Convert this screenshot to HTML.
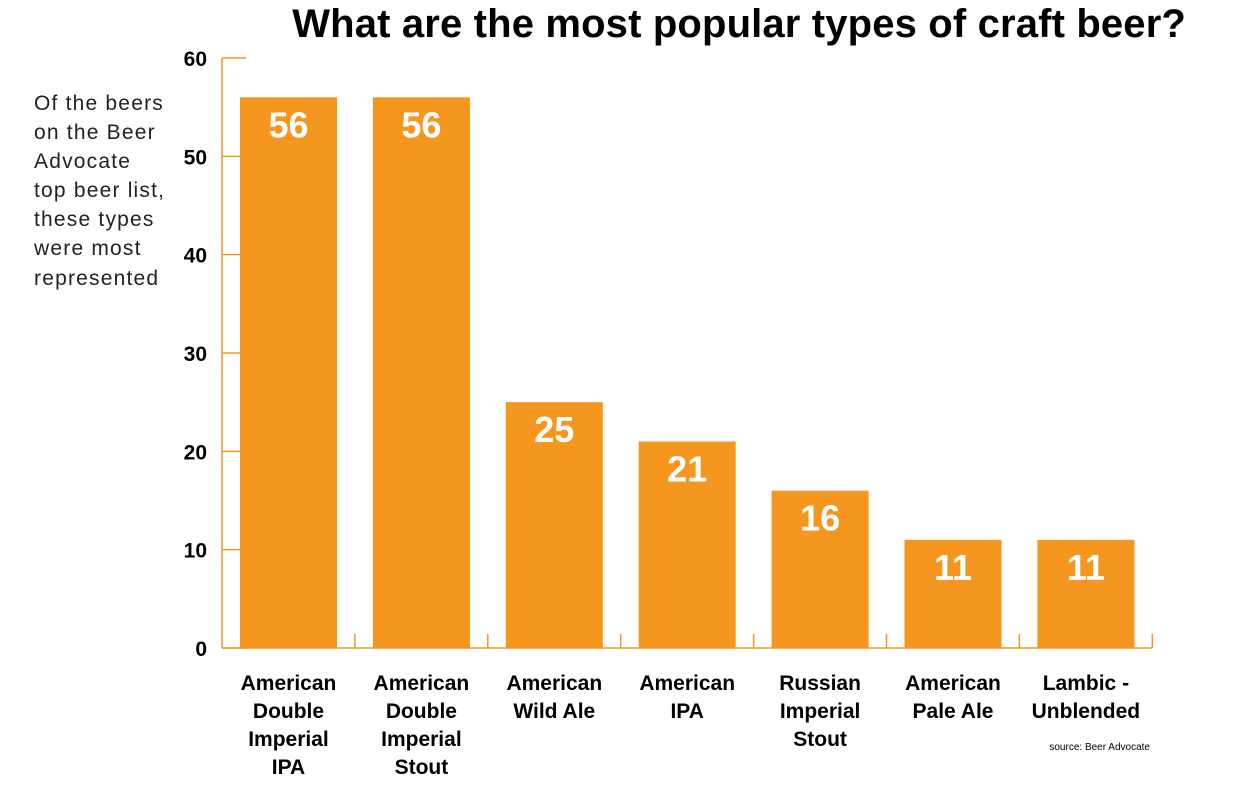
<!DOCTYPE html>
<html><head><meta charset="utf-8"><style>
body{margin:0;background:#fff;width:1250px;height:798px;overflow:hidden;font-family:"Liberation Sans",sans-serif}
svg{display:block}
.lbl{font-weight:900;font-size:21px;fill:#000;text-anchor:middle}
</style></head><body>
<svg id="chart" width="1250" height="798" viewBox="0 0 1250 798">
<text x="1186" y="37" text-anchor="end" font-size="40" font-weight="900" fill="#000" style="letter-spacing:0.15px">What are the most popular types of craft beer?</text>
<g font-size="21" fill="#222" font-weight="300" style="letter-spacing:1.2px">
<text x="34" y="110">Of the beers</text><text x="34" y="139">on the Beer</text><text x="34" y="168">Advocate</text><text x="34" y="197">top beer list,</text><text x="34" y="226">these types</text><text x="34" y="255">were most</text><text x="34" y="285">represented</text>
</g>
<g id="axis"></g><g id="bars"></g>
<text x="1150" y="750" text-anchor="end" font-size="10" fill="#000">source: Beer Advocate</text>
</svg>
<script>
const categories=[["American","Double","Imperial","IPA"],["American","Double","Imperial","Stout"],["American","Wild Ale"],["American","IPA"],["Russian","Imperial","Stout"],["American","Pale Ale"],["Lambic -","Unblended"]];
const values=[56,56,25,21,16,11,11];
const yTicks=[0,10,20,30,40,50,60];
const NS="http://www.w3.org/2000/svg";
const y=v=>648-v*(590/60);
const step=132.9, x0=222;
const bx=i=>x0+18+i*step, bw=97;
function mk(t,a,p){const e=document.createElementNS(NS,t);for(const k in a)e.setAttribute(k,a[k]);p.appendChild(e);return e;}
const ax=document.getElementById('axis'), bars=document.getElementById('bars');
const c="#f5961f";
const vl=mk('line',{x1:x0,x2:x0,y1:y(60),y2:y(0),stroke:c,'stroke-width':1.5},ax);


const bl=mk('line',{x1:x0,x2:x0+7*step,y1:y(0),y2:y(0),stroke:c,'stroke-width':1.5},ax);


yTicks.forEach(v=>{
 const tl=mk('line',{x1:x0,x2:x0+24,y1:y(v),y2:y(v),stroke:c,'stroke-width':1.5},ax);
 
 
 const t=mk('text',{x:207,y:y(v)+8,'text-anchor':'end','font-size':21,'font-weight':900},ax);
 t.textContent=v;
 
 
});
for(let i=1;i<=7;i++){
 const tk=mk('line',{x1:x0+i*step,x2:x0+i*step,y1:y(0)-14,y2:y(0),stroke:c,'stroke-width':1.5},ax);
 
 
}
values.forEach((v,i)=>{
 const r=mk('rect',{x:bx(i),y:y(v),width:bw,height:y(0)-y(v),fill:c},bars);
 
 
 const t=mk('text',{x:bx(i)+bw/2,y:y(v)+40,'text-anchor':'middle','font-size':36,'font-weight':900,fill:'#fff'},bars);
 t.textContent=v;
 
 
 categories[i].forEach((w,j)=>{
  const l=mk('text',{x:bx(i)+bw/2,y:690+j*28,class:'lbl'},bars);
  l.textContent=w;
  
  
 });
});
</script>
</body></html>
